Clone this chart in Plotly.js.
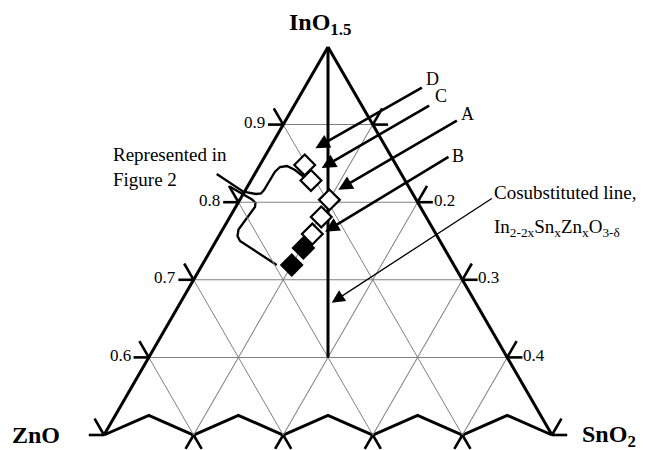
<!DOCTYPE html>
<html><head><meta charset="utf-8">
<script src="https://cdn.plot.ly/plotly-3.0.1.min.js"></script>
<style>html,body{margin:0;padding:0;background:#fff}#chart{width:645px;height:450px}</style>
</head><body><div id="chart"></div>
<script>
// ---------------- data (ternary fractions: InO1.5 = a, ZnO = b, SnO2 = c) ----------------
const openIn  = [0.848, 0.828, 0.803, 0.781, 0.759];
const openZn  = [0.102, 0.105, 0.097, 0.117, 0.138];
const openSn  = [0.050, 0.067, 0.100, 0.102, 0.103];
const filledIn = [0.741, 0.719];
const filledZn = [0.157, 0.181];
const filledSn = [0.102, 0.100];
const cosubIn = [1.0, 0.6];
const cosubZn = [0.0, 0.2];
const cosubSn = [0.0, 0.2];
const sampleNames = ['D', 'C', 'A', 'B'];
const sampleIndex = [0, 1, 2, 4];           // which open diamond each label points to
const inTicks = [0.6, 0.7, 0.8, 0.9];
const inTickLabels = ['0.6', '0.7', '0.8', '0.9'];
const snTicks = [0.2, 0.3, 0.4];
const snTickLabels = ['0.2', '0.3', '0.4'];
const gridVals = [0.1, 0.2, 0.3, 0.4];
const vertexNames = ['InO<sub>1.5</sub>', 'ZnO', 'SnO<sub>2</sub>'];
const cosubText1 = 'Cosubstituted line,';
const cosubText2 = 'In<sub>2-2x</sub>Sn<sub>x</sub>Zn<sub>x</sub>O<sub>3-δ</sub>';
const bracketText = 'Represented in<br>Figure 2';

// ---------------- geometry ----------------
const PW = 645, PH = 450;
const TOP = 47, H = 388, XC = 328;
const W = H * 2 / Math.sqrt(3);
const AMIN = 0.5;
const FONT = 'Liberation Serif, Times New Roman, serif';
const domX = [(XC - 240) / PW, (XC + 240) / PW];
const domY = [(PH - TOP - H) / PH, (PH - TOP) / PH];
// overlay cartesian coordinates: X = c - b (1 unit = W px), Y = a (1 unit = 2H px)
function toXY(a, b, c) { const s = a + b + c; return [(c - b) / s, a / s]; }
const xr = [(0 - XC) / W, (PW - XC) / W];
const yr = [1 - (PH - TOP) / (2 * H), 1 + TOP / (2 * H)];
function px2paper(px, py) { return [px / PW, 1 - py / PH]; }
function px2xy(px, py) { return [(px - XC) / W, 1 - (py - TOP) / (2 * H)]; }

// ---------------- frame decorations (ticks, zigzag) ----------------
const tL = 0.017, tS = 0.021, tB = 0.018, zz = 0.0253;
const tx = [], ty = [];
function seg(p, q) { tx.push(p[0], q[0], null); ty.push(p[1], q[1], null); }
[AMIN].concat(inTicks).forEach(a => {
  const r = 1 - a;
  seg(toXY(a, r, 0), toXY(a, r + tL, -tL));
  seg(toXY(a, r, 0), toXY(a + tS, r, -tS));
  seg(toXY(a, 0, r), toXY(a, -tL, r + tL));
  seg(toXY(a, 0, r), toXY(a + tS, -tS, r));
});
gridVals.forEach(b => {
  const c = 1 - AMIN - b;
  seg(toXY(AMIN, b, c), toXY(AMIN - tB, b, c + tB));
  seg(toXY(AMIN, b, c), toXY(AMIN - tB, b + tB, c));
});
const baseB = [0.5].concat(gridVals.slice().reverse()).concat([0]);
const zx = [], zy = [];
baseB.forEach((b, i) => {
  const p = toXY(AMIN, b, 1 - AMIN - b);
  if (i > 0) { zx.push((zx[zx.length - 1] + p[0]) / 2); zy.push(AMIN + zz); }
  zx.push(p[0]); zy.push(p[1]);
});

// bracket (hand-drawn brace, pixel path)
const bracketUpperPx = [[216.7,174],[243.3,191.7],[256,194],[261,193.5],[264,190],[275,171.7],[280,167],[287,166],[295,170],[303.3,176.5]];
const bracketLowerPx = [[230,186.7],[252,199.5],[255.5,203],[255,207],[238.5,229.5],[237.5,236],[240,241],[276.7,265]];
function pxLine(pts) { const o = {x: [], y: []}; pts.forEach(p => { const q = px2xy(p[0], p[1]); o.x.push(q[0]); o.y.push(q[1]); }); return o; }
const bu = pxLine(bracketUpperPx), bl = pxLine(bracketLowerPx);

const traces = [
  {type: 'scatter', x: tx, y: ty, mode: 'lines', line: {color: 'black', width: 2.6}, cliponaxis: false, hoverinfo: 'skip', xaxis: 'x', yaxis: 'y'},
  {type: 'scatter', x: zx, y: zy, mode: 'lines', line: {color: 'black', width: 3}, cliponaxis: false, hoverinfo: 'skip'},
  {type: 'scatter', x: bu.x, y: bu.y, mode: 'lines', line: {color: 'black', width: 2.3}, cliponaxis: false, hoverinfo: 'skip'},
  {type: 'scatter', x: bl.x, y: bl.y, mode: 'lines', line: {color: 'black', width: 2.3}, cliponaxis: false, hoverinfo: 'skip'},
  {type: 'scatterternary', a: cosubIn, b: cosubZn, c: cosubSn, mode: 'lines', line: {color: 'black', width: 3}, subplot: 'ternary', hoverinfo: 'skip'},
  {type: 'scatterternary', a: openIn, b: openZn, c: openSn, mode: 'markers', subplot: 'ternary', cliponaxis: false,
   marker: {symbol: 'diamond', size: 16, color: 'white', line: {color: 'black', width: 2.2}}},
  {type: 'scatterternary', a: filledIn, b: filledZn, c: filledSn, mode: 'markers', subplot: 'ternary', cliponaxis: false,
   marker: {symbol: 'diamond', size: 16, color: 'black', line: {color: 'black', width: 2.2}}}
];

// ---------------- annotations ----------------
const ann = [];
function paperText(text, px, py, size, opts) {
  const p = px2paper(px, py);
  ann.push(Object.assign({xref: 'paper', yref: 'paper', x: p[0], y: p[1], text: text, showarrow: false,
    xanchor: 'center', yanchor: 'middle', font: {family: FONT, size: size, color: 'black'}}, opts || {}));
}
paperText('<b>' + vertexNames[0] + '</b>', 320, 24, 24);
paperText('<b>' + vertexNames[1] + '</b>', 36, 435.2, 24);
paperText('<b>' + vertexNames[2] + '</b>', 608.7, 436.4, 24);

inTicks.forEach((a, i) => {
  const p = toXY(a, 1 - a, 0);
  ann.push({xref: 'x', yref: 'y', x: p[0], y: p[1], text: inTickLabels[i], showarrow: false, xanchor: 'right', yanchor: 'middle',
    xshift: -16, yshift: 2, font: {family: FONT, size: 17, color: 'black'}});
});
snTicks.forEach((c, i) => {
  const a = 1 - c;
  const p = toXY(a, 0, c);
  ann.push({xref: 'x', yref: 'y', x: p[0], y: p[1], text: snTickLabels[i], showarrow: false, xanchor: 'left', yanchor: 'middle',
    xshift: 14, yshift: 2, font: {family: FONT, size: 17, color: 'black'}});
});

// sample arrows: tip offset from the diamond (px) and tail offset from tip (px)
const arrowCfg = [
  {dx: 10.7, dy: 16.7, ax: 108, ay: -61.6, lx: 432, ly: 79},
  {dx: 10.7, dy: 12.4, ax: 109, ay: -63.3, lx: 441, ly: 96},
  {dx: 9, dy: 10, ax: 120, ay: -70, lx: 467, ly: 114},
  {dx: 12.7, dy: 2.3, ax: 125, ay: -75.7, lx: 457.5, ly: 156}
];
sampleNames.forEach((name, k) => {
  const i = sampleIndex[k];
  const p = toXY(openIn[i], openZn[i], openSn[i]);
  const cfg = arrowCfg[k];
  ann.push({xref: 'x', yref: 'y', x: p[0], y: p[1], xshift: cfg.dx, yshift: cfg.dy, text: '', showarrow: true,
    ax: cfg.ax, ay: cfg.ay, arrowhead: 2, arrowsize: 1.1, arrowwidth: 2.6, arrowcolor: 'black', standoff: 0});
  paperText(name, cfg.lx, cfg.ly, 18);
});

// cosubstituted line arrow + text
{
  const tip = px2paper(331.7, 302.7);
  ann.push({xref: 'paper', yref: 'paper', x: tip[0], y: tip[1], text: '', showarrow: true,
    ax: 161.6, ay: -105.2, arrowhead: 2, arrowsize: 2, arrowwidth: 1.3, arrowcolor: 'black', standoff: 0});
}
paperText(cosubText1, 491.5, 192, 19, {xanchor: 'left'});
paperText(cosubText2, 491.5, 227.5, 19, {xanchor: 'left'});
paperText(bracketText, 111, 167.3, 19, {xanchor: 'left', align: 'left'});

const layout = {
  width: PW, height: PH,
  margin: {l: 0, r: 0, t: 0, b: 0},
  paper_bgcolor: 'white', plot_bgcolor: 'rgba(0,0,0,0)',
  showlegend: false,
  xaxis: {domain: [0, 1], range: xr, visible: false, fixedrange: true},
  yaxis: {domain: [0, 1], range: yr, visible: false, fixedrange: true},
  ternary: {
    domain: {x: domX, y: domY},
    sum: 1,
    bgcolor: 'rgba(0,0,0,0)',
    aaxis: {min: AMIN, tickvals: inTicks, showticklabels: false, ticks: '', showline: true, linecolor: 'black', linewidth: 3,
            showgrid: true, gridcolor: '#808080', gridwidth: 1, title: {text: ''}},
    baxis: {min: 0, tickvals: gridVals, showticklabels: false, ticks: '', showline: false,
            showgrid: true, gridcolor: '#808080', gridwidth: 1, title: {text: ''}},
    caxis: {min: 0, tickvals: gridVals, showticklabels: false, ticks: '', showline: true, linecolor: 'black', linewidth: 3,
            showgrid: true, gridcolor: '#808080', gridwidth: 1, title: {text: ''}}
  },
  annotations: ann
};

Plotly.newPlot('chart', traces, layout, {staticPlot: true});
</script>
</body></html>
